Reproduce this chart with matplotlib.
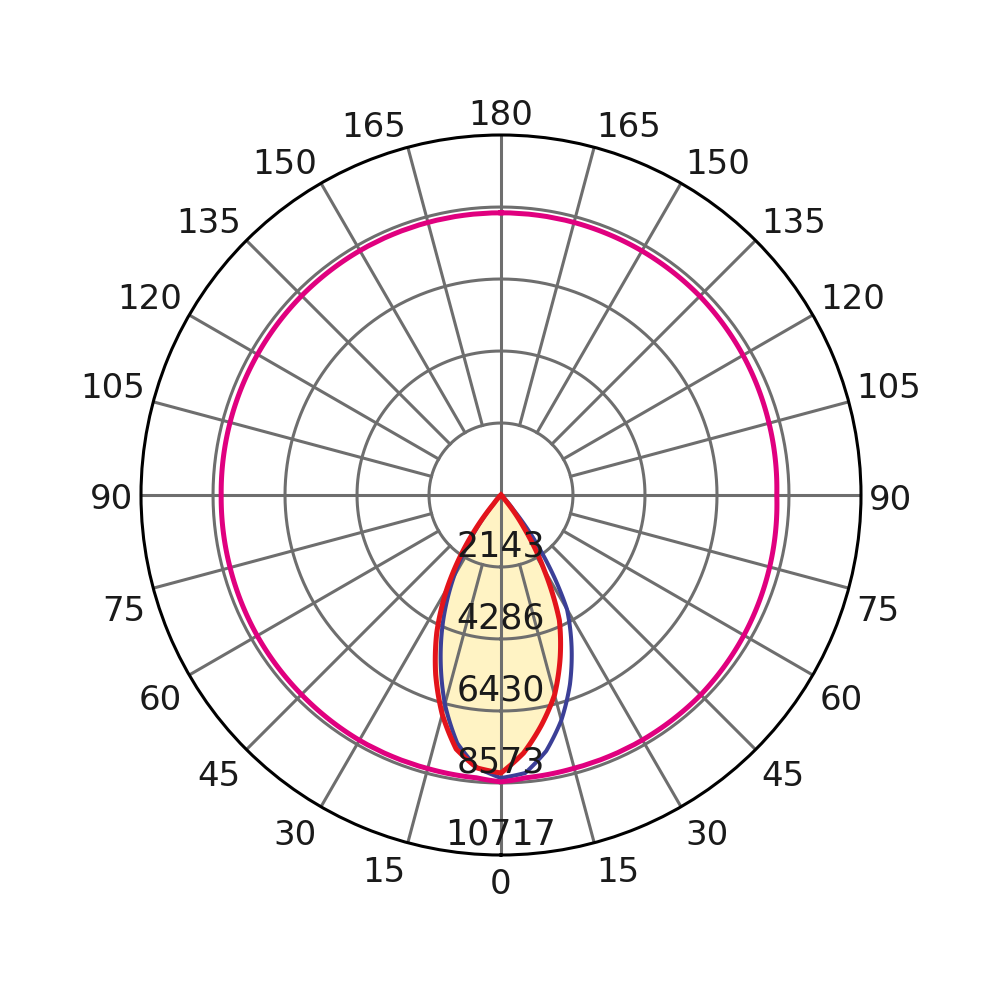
import numpy as np
import matplotlib
matplotlib.use('Agg')
import matplotlib.pyplot as plt
from matplotlib.transforms import ScaledTranslation

# gamma angles (deg from nadir) for the beam curves
gamma = [0, 5, 10, 15, 20, 25, 30, 35, 40, 45, 50, 60, 70, 80, 90]

# red curve (C0 right, C180 left), cd
red_right = [8276, 7710, 6950, 6160, 5150, 4110, 2560, 1190, 150, 0, 0, 0, 0, 0, 0]
red_left = [8276, 8157, 7680, 6758, 5686, 4525, 3215, 1786, 330, 0, 0, 0, 0, 0, 0]

# blue curve (C90 right, C270 left), cd
blue_right = [8425, 8306, 7740, 6940, 6000, 4970, 3930, 2200, 600, 0, 0, 0, 0, 0, 0]
blue_left = [8425, 8150, 7500, 6450, 5250, 4050, 2800, 1500, 300, 0, 0, 0, 0, 0, 0]

# magenta curve, all the way round
gamma_m = [0, 5, 15, 30, 45, 60, 75, 90, 105, 120, 135, 150, 165, 180]
mag_right = [8540, 8450, 8420, 8420, 8410, 8350, 8280, 8210, 8260, 8320, 8370, 8390, 8400, 8400]
mag_left = [8540, 8450, 8430, 8430, 8400, 8380, 8350, 8330, 8350, 8370, 8390, 8400, 8400, 8400]

ring_values = [2143, 4286, 6430, 8573, 10717]
angle_labels = [0, 15, 30, 45, 60, 75, 90, 105, 120, 135, 150, 165, 180]

r_max = 10717
grid_col = '#6e6e6e'
txt_col = '#1a1a1a'


def both_sides(g, right, left):
    # right side runs 0 -> 90/180, left side is mirrored (negative theta)
    th = np.concatenate([np.radians(g)[::-1] * -1, np.radians(g)[1:]])
    r = np.concatenate([np.array(left)[::-1], np.array(right)[1:]])
    return th, r


def smooth_polar(artist, steps=40):
    # draw segments as arcs/spirals in polar space instead of straight chords
    artist.get_path()._interpolation_steps = steps


fig = plt.figure(figsize=(10, 10), dpi=100)
ax = fig.add_axes([0.141, 0.145, 0.72, 0.72], projection='polar')
ax.set_theta_zero_location('S')
ax.set_theta_direction(1)
ax.set_ylim(0, r_max)
ax.grid(False)
ax.set_xticks([])
ax.set_yticks([])
ax.spines['polar'].set_color('black')
ax.spines['polar'].set_linewidth(2.2)

# yellow fill under the red curve
th_red, r_red = both_sides(gamma, red_right, red_left)
poly = ax.fill(th_red, r_red, color='#fff3c4', zorder=1)[0]
smooth_polar(poly)

# grid rings and spokes
circ = np.linspace(0, 2 * np.pi, 361)
for v in ring_values[:-1]:
    ax.plot(circ, np.full_like(circ, v), color=grid_col, lw=2.2, zorder=2)
for a in range(0, 360, 15):
    t = np.radians(a)
    r0 = 0 if a % 90 == 0 else ring_values[0]
    ax.plot([t, t], [r0, r_max], color=grid_col, lw=2.2, zorder=2)

# curves
th_blue, r_blue = both_sides(gamma, blue_right, blue_left)
ln_b, = ax.plot(th_blue, r_blue, color='#3b3f97', lw=2.9, zorder=3)
ln_r, = ax.plot(th_red, r_red, color='#e3141b', lw=3.6, zorder=4)
th_mag, r_mag = both_sides(gamma_m, mag_right, mag_left)
ln_m, = ax.plot(th_mag, r_mag, color='#e0007f', lw=3.6, zorder=5)
for ln in (ln_b, ln_r, ln_m):
    smooth_polar(ln)

# intensity labels along the nadir
for v in ring_values:
    ax.text(0, v - 320, str(v), ha='center', va='baseline', fontsize=25,
            color=txt_col, zorder=6)

# angle labels round the outside, nudged down a little
shift = ax.transData + ScaledTranslation(0, -5 / 100, fig.dpi_scale_trans)
r_lab = 10960
for g in angle_labels:
    va = 'top' if g < 90 else ('bottom' if g > 90 else 'center')
    if g in (0, 180):
        ax.text(np.radians(g), r_lab, str(g), ha='center', va=va, fontsize=24.5,
                color=txt_col, transform=shift)
        continue
    ax.text(np.radians(g), r_lab, str(g), ha='left', va=va, fontsize=24.5,
            color=txt_col, transform=shift)
    ax.text(-np.radians(g), r_lab, str(g), ha='right', va=va, fontsize=24.5,
            color=txt_col, transform=shift)

fig.savefig('out.png', dpi=100, facecolor='white')
